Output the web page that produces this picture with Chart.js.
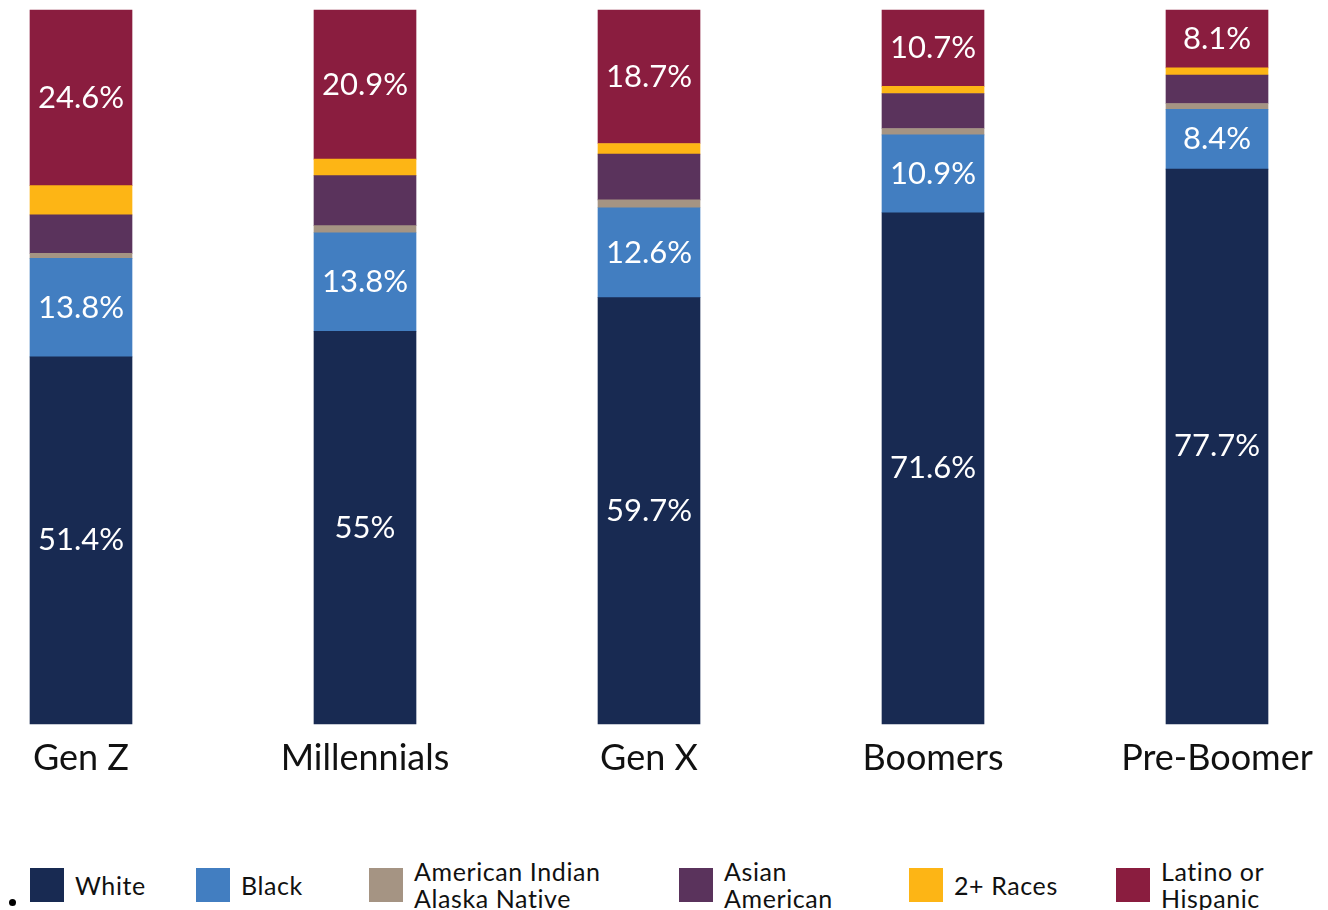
<!DOCTYPE html>
<html>
<head>
<meta charset="utf-8">
<script src="https://cdn.jsdelivr.net/npm/chart.js@4/dist/chart.umd.min.js"></script>
<style>
  body { margin: 0; background: #fff; font-family: Lato, sans-serif; }
  #wrap { position: relative; width: 1328px; height: 910px; }
  #chartBox { position: absolute; left: 0; top: 0; width: 1328px; height: 785px; }
  #legend { position: absolute; left: 30px; top: 858px; display: grid; grid-template-columns: 166px 173px 310px 230px 207px auto; align-items: center; }
  .item { display: flex; align-items: center; }
  .box { width: 34px; height: 34px; margin-right: 11px; }
  .txt { font-size: 25px; line-height: 27px; letter-spacing: 0.6px; color: #111; white-space: pre; }
  #dot { position: absolute; left: 9px; top: 899px; width: 7px; height: 7px; border-radius: 50%; background: #000; }
</style>
</head>
<body>
<div id="wrap">
  <div id="chartBox"><canvas id="chart"></canvas></div>
  <div id="legend"></div>
  <div id="dot"></div>
</div>
<script>
const generations = ['Gen Z', 'Millennials', 'Gen X', 'Boomers', 'Pre-Boomer'];
const seriesNames = ['White', 'Black', 'American Indian\nAlaska Native', 'Asian\nAmerican', '2+ Races', 'Latino or\nHispanic'];
const seriesColors = ['#182a52', '#427ec1', '#a59483', '#5a335c', '#fdb515', '#8a1d3f'];
const white = [51.4, 55, 59.7, 71.6, 77.7];
const black = [13.8, 13.8, 12.6, 10.9, 8.4];
const aian = [0.7, 1.0, 1.1, 0.9, 0.8];
const asian = [5.4, 7.0, 6.4, 4.9, 4.0];
const twoPlus = [4.1, 2.3, 1.5, 1.0, 1.0];
const latino = [24.6, 20.9, 18.7, 10.7, 8.1];
const labeledSeries = [0, 1, 5];

const values = [white, black, aian, asian, twoPlus, latino];

const datasets = values.map((v, i) => ({
  label: seriesNames[i],
  data: v,
  backgroundColor: seriesColors[i],
  borderWidth: 0,
  barThickness: 102,
  clip: false,
}));

// white % labels in the middle of some segments
const valueLabels = {
  id: 'valueLabels',
  afterDatasetsDraw(chart) {
    const ctx = chart.ctx;
    ctx.save();
    ctx.fillStyle = '#fff';
    ctx.font = '31px Lato, sans-serif';
    ctx.textAlign = 'center';
    ctx.textBaseline = 'middle';
    labeledSeries.forEach(di => {
      chart.getDatasetMeta(di).data.forEach((bar, j) => {
        const mid = (bar.y + bar.base) / 2;
        ctx.fillText(values[di][j] + '%', bar.x, mid);
      });
    });
    ctx.restore();
  }
};

new Chart(document.getElementById('chart'), {
  type: 'bar',
  data: { labels: generations, datasets },
  options: {
    responsive: true,
    maintainAspectRatio: false,
    animation: false,
    layout: { padding: { left: 81, right: 111, top: 10, bottom: 0 } },
    plugins: { legend: { display: false }, tooltip: { enabled: false } },
    scales: {
      x: {
        stacked: true,
        offset: false,
        grid: { display: false },
        border: { display: false },
        ticks: { color: '#111', font: { family: 'Lato', size: 36 }, padding: 5, maxRotation: 0 },
      },
      y: {
        stacked: true,
        display: false,
        min: 0,
        max: 100,
      },
    },
  },
  plugins: [valueLabels],
});

const legend = document.getElementById('legend');
seriesNames.forEach((name, i) => {
  const item = document.createElement('div');
  item.className = 'item';
  const box = document.createElement('div');
  box.className = 'box';
  box.style.background = seriesColors[i];
  const txt = document.createElement('div');
  txt.className = 'txt';
  txt.textContent = name;
  item.appendChild(box);
  item.appendChild(txt);
  legend.appendChild(item);
});
</script>
</body>
</html>
